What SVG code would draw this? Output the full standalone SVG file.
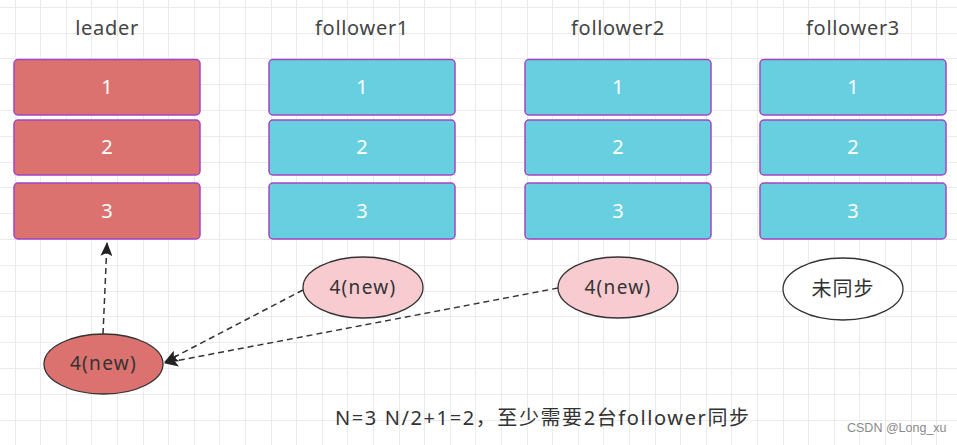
<svg xmlns="http://www.w3.org/2000/svg" width="957" height="445" viewBox="0 0 957 445">
<style>
.grid{stroke:#ebebeb;stroke-width:1;fill:none}
.box-l{fill:#DB726F;stroke:#A346C4;stroke-width:1.5}
.box-f{fill:#67CFE0;stroke:#A346C4;stroke-width:1.5}
.num{font-family:"Noto Sans","Liberation Sans",sans-serif;font-size:20px;fill:#ffffff;text-anchor:middle}
.title{font-family:"Noto Sans","Liberation Sans",sans-serif;font-size:20px;letter-spacing:0.7px;fill:#444444;text-anchor:middle}
.el{stroke:#333333;stroke-width:1.3}
.etext{font-family:"Noto Sans","Noto Sans CJK SC",sans-serif;font-size:19px;letter-spacing:1.3px;fill:#333333;text-anchor:middle}
.ctext{font-family:"Noto Sans CJK SC","Noto Sans",sans-serif;font-size:20px;letter-spacing:1px;fill:#333333;text-anchor:middle}
.conn{stroke:#333333;stroke-width:1.5;stroke-dasharray:6 4;fill:none}
.note{font-family:"Noto Sans","Noto Sans CJK SC",sans-serif;font-size:20px;fill:#333333}
.wm{font-family:"Liberation Sans","Noto Sans",sans-serif;font-size:12.5px;fill:#8a8a8a}
</style>
<defs>
<marker id="arr" viewBox="0 0 14 12" refX="13" refY="6" markerWidth="14" markerHeight="12" markerUnits="userSpaceOnUse" orient="auto">
<path d="M0,0 L14,6 L0,12 L3,6 Z" fill="#222222"/>
</marker>
</defs>
<rect width="957" height="445" fill="#ffffff"/>
<path class="grid" d="M15.5,0V445M40.5,0V445M66.5,0V445M91.5,0V445M117.5,0V445M143.5,0V445M168.5,0V445M194.5,0V445M219.5,0V445M245.5,0V445M271.5,0V445M296.5,0V445M322.5,0V445M347.5,0V445M373.5,0V445M399.5,0V445M424.5,0V445M450.5,0V445M475.5,0V445M501.5,0V445M527.5,0V445M552.5,0V445M578.5,0V445M603.5,0V445M629.5,0V445M655.5,0V445M680.5,0V445M706.5,0V445M731.5,0V445M757.5,0V445M783.5,0V445M808.5,0V445M834.5,0V445M859.5,0V445M885.5,0V445M911.5,0V445M936.5,0V445M0,7.5H957M0,33.5H957M0,58.5H957M0,84.5H957M0,110.5H957M0,136.5H957M0,162.5H957M0,187.5H957M0,213.5H957M0,239.5H957M0,265.5H957M0,291.5H957M0,316.5H957M0,342.5H957M0,368.5H957M0,394.5H957M0,420.5H957"/>

<g id="leader">
<text class="title" x="107" y="35">leader</text>
<rect class="box-l" x="14" y="59.5" width="186" height="55.5" rx="4"/>
<text class="num" x="107" y="94">1</text>
<rect class="box-l" x="14" y="120" width="186" height="55" rx="4"/>
<text class="num" x="107" y="154">2</text>
<rect class="box-l" x="14" y="183" width="186" height="56" rx="4"/>
<text class="num" x="107" y="218">3</text>
</g>
<g id="follower1">
<text class="title" x="362" y="35">follower1</text>
<rect class="box-f" x="269" y="59.5" width="186" height="55.5" rx="4"/>
<text class="num" x="362" y="94">1</text>
<rect class="box-f" x="269" y="120" width="186" height="55" rx="4"/>
<text class="num" x="362" y="154">2</text>
<rect class="box-f" x="269" y="183" width="186" height="56" rx="4"/>
<text class="num" x="362" y="218">3</text>
</g>
<g id="follower2">
<text class="title" x="618" y="35">follower2</text>
<rect class="box-f" x="525" y="59.5" width="186" height="55.5" rx="4"/>
<text class="num" x="618" y="94">1</text>
<rect class="box-f" x="525" y="120" width="186" height="55" rx="4"/>
<text class="num" x="618" y="154">2</text>
<rect class="box-f" x="525" y="183" width="186" height="56" rx="4"/>
<text class="num" x="618" y="218">3</text>
</g>
<g id="follower3">
<text class="title" x="853" y="35">follower3</text>
<rect class="box-f" x="760" y="59.5" width="186" height="55.5" rx="4"/>
<text class="num" x="853" y="94">1</text>
<rect class="box-f" x="760" y="120" width="186" height="55" rx="4"/>
<text class="num" x="853" y="154">2</text>
<rect class="box-f" x="760" y="183" width="186" height="56" rx="4"/>
<text class="num" x="853" y="218">3</text>
</g>

<g id="connectors">
<path class="conn" d="M103,334 L107,243" marker-end="url(#arr)"/>
<path class="conn" d="M303,290 L165,362" marker-end="url(#arr)"/>
<path class="conn" d="M558,288 L165,363" marker-end="url(#arr)"/>
</g>

<g id="f1-new">
<ellipse class="el" cx="363" cy="287.5" rx="60" ry="30.5" fill="#F8CBD1"/>
<text class="etext" x="363" y="294">4(new)</text>
</g>
<g id="f2-new">
<ellipse class="el" cx="618" cy="287.5" rx="60" ry="30.5" fill="#F8CBD1"/>
<text class="etext" x="618" y="294">4(new)</text>
</g>
<g id="f3-unsync">
<ellipse class="el" cx="843" cy="289" rx="60" ry="31" fill="#ffffff"/>
<text class="ctext" x="843" y="296">未同步</text>
</g>
<g id="leader-new">
<ellipse class="el" cx="103.5" cy="364" rx="59.5" ry="30" fill="#DB726F"/>
<text class="etext" x="103.5" y="370">4(new)</text>
</g>

<text class="note" x="335" y="425" textLength="414" lengthAdjust="spacing">N=3 N/2+1=2，至少需要2台follower同步</text>
<text class="wm" x="847" y="432">CSDN @Long_xu</text>
</svg>
